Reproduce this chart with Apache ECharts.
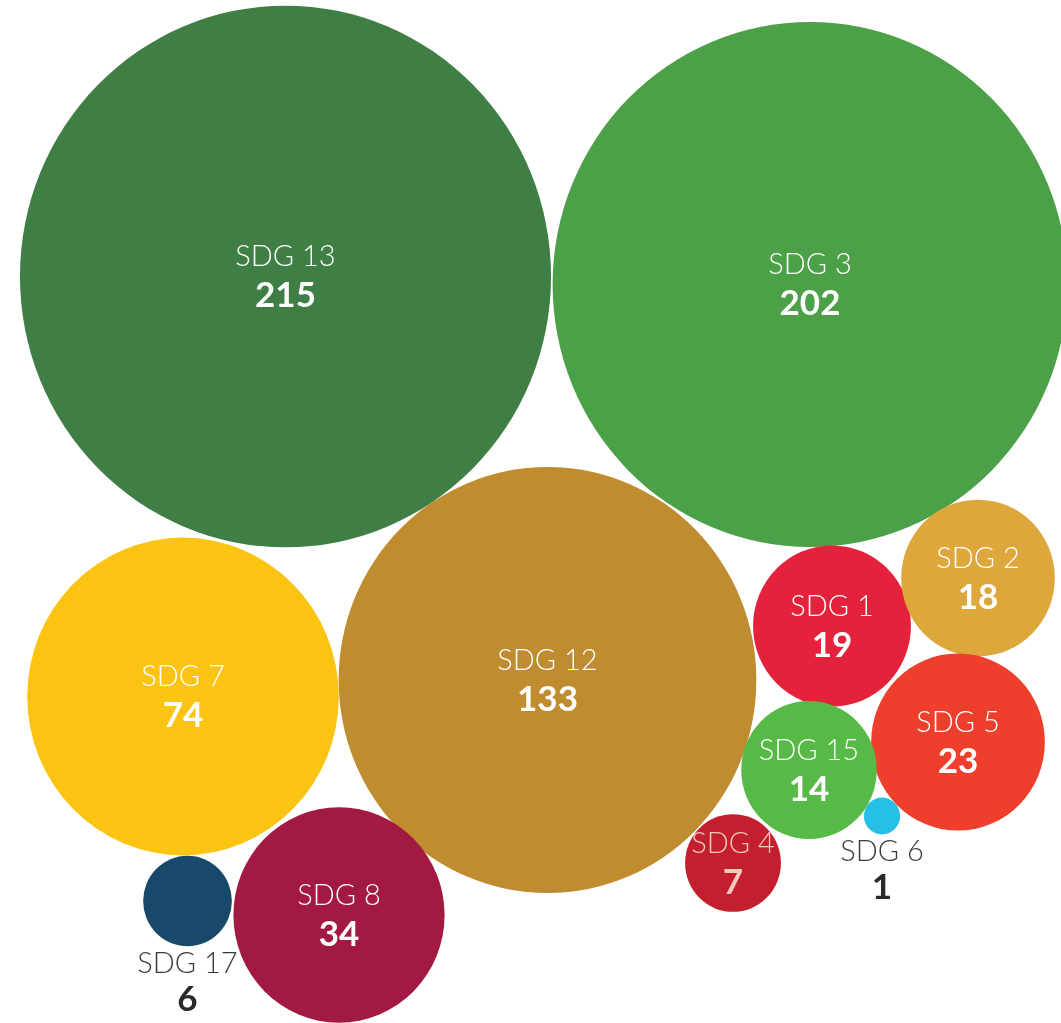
<!DOCTYPE html>
<html>
<head>
<meta charset="utf-8">
<script src="https://cdn.jsdelivr.net/npm/echarts@6/dist/echarts.min.js"></script>
<style>
html,body{margin:0;padding:0;background:#fff;}
#chart{width:1061px;height:1023px;}
</style>
</head>
<body>
<div id="chart"></div>
<script>
// Data
var names  = ['SDG 13','SDG 3','SDG 12','SDG 7','SDG 8','SDG 17','SDG 1','SDG 2','SDG 5','SDG 15','SDG 4','SDG 6'];
var values = [215, 202, 133, 74, 34, 6, 19, 18, 23, 14, 7, 1];

// Packed-bubble layout (centre positions, in page pixels)
var layoutX = [285.5, 810, 547.5, 183, 339, 187.5, 832, 978, 958, 809, 733, 882];
var layoutY = [276.5, 284.5, 680, 696.5, 915, 901, 626, 578, 742, 770, 863, 816];

// Styles
var colors = ['#3F7E45','#4CA048','#BF8C2F','#FBC412','#A21A42','#18486A','#E4223C','#DDA73B','#EE3F2C','#57BA47','#C41F2F','#26BFE6'];
var outside = {'SDG 6': true, 'SDG 17': true};
var textColor = {'SDG 4': '#F6C9BD'};

var K = 18.11;       // radius per sqrt(value)
var ASPECT = 1.02;   // slight vertical stretch in the reference

var data = names.map(function (n, i) {
  var out = !!outside[n];
  var tc = textColor[n] || '#ffffff';
  return {
    name: n,
    value: [layoutX[i], layoutY[i], values[i]],
    itemStyle: { color: colors[i] },
    label: out ? {
      position: 'bottom',
      distance: -1,
      rich: {
        n: { color: '#3a3a3a', fontSize: 29, fontWeight: 300, fontFamily: 'Lato', lineHeight: 36 },
        v: { color: '#2a2a2a', fontSize: 35, fontWeight: 'bold', fontFamily: 'Lato', lineHeight: 36 }
      }
    } : {
      position: 'inside',
      rich: {
        n: { color: tc, fontSize: 29, fontWeight: 300, fontFamily: 'Lato', lineHeight: 39 },
        v: { color: tc, fontSize: 35, fontWeight: 'bold', fontFamily: 'Lato', lineHeight: 39 }
      }
    }
  };
});

var chart = echarts.init(document.getElementById('chart'), null, { renderer: 'canvas' });
chart.setOption({
  backgroundColor: '#ffffff',
  animation: false,
  grid: { left: 0, right: 0, top: 0, bottom: 0 },
  xAxis: { type: 'value', min: 0, max: 1061, show: false },
  yAxis: { type: 'value', min: 0, max: 1023, inverse: true, show: false },
  series: [{
    type: 'scatter',
    symbol: 'circle',
    symbolSize: function (val) {
      var d = 2 * K * Math.sqrt(val[2]);
      return [d, d * ASPECT];
    },
    itemStyle: { opacity: 1 },
    label: {
      show: true,
      formatter: function (p) { return '{n|' + p.name + '}\n{v|' + p.value[2] + '}'; }
    },
    emphasis: { disabled: true },
    data: data
  }]
});
</script>
</body>
</html>
